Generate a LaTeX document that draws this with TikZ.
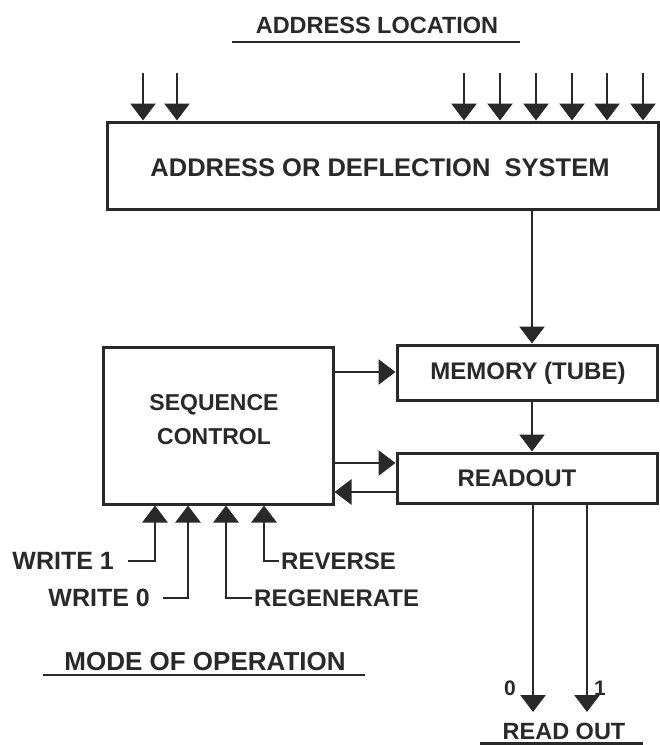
\documentclass[tikz,border=0pt]{standalone}
\usepackage{fontspec}
\setmainfont{Liberation Sans}
\usetikzlibrary{arrows.meta}
\definecolor{ink}{rgb}{0.16,0.16,0.16}
\tikzset{
  box/.style={draw=ink, line width=3pt, inner sep=0pt, text=ink},
  arr/.style={draw=ink, line width=2.8pt, -{Triangle[width=25pt,length=17pt]}},
  uline/.style={draw=ink, line width=2.8pt},
  lbl/.style={text=ink, inner sep=0pt, font=\fontsize{24}{26}\selectfont\bfseries},
  ttl/.style={text=ink, inner sep=0pt, font=\fontsize{23.5}{26}\selectfont\bfseries},
}
\begin{document}
\begin{tikzpicture}[x=1pt,y=-1pt]
\useasboundingbox[fill=white] (0,0) rectangle (660,745);

% title
\node[ttl] (addrloc) at (377,25) {ADDRESS LOCATION};
\draw[uline] (232,42) -- (520,42);

% address box
\node[box, minimum width=551pt, minimum height=87pt] (addr) at (382.5,165.5) {};
\node[ttl, font=\fontsize{25.5}{27}\selectfont\bfseries] (addrtxt) at (380,168) {ADDRESS OR DEFLECTION\ \ SYSTEM};

% top input arrows
\foreach \i/\x in {1/143,2/177,3/464,4/500,5/536,6/572,7/607,8/643}{
  \coordinate (t\i) at (\x,73);
  \draw[arr] (t\i) -- (t\i |- addr.north);
}

% memory and readout
\node[box, minimum width=260pt, minimum height=55pt] (mem) at (527,372.5) {};
\node[lbl] (memtxt) at (528,373) {MEMORY (TUBE)};
\node[box, minimum width=260pt, minimum height=50pt] (rd) at (527,478) {};
\node[lbl] (rdtxt) at (517,478) {READOUT};

% sequence control
\node[box, minimum width=230pt, minimum height=157pt] (seq) at (218,425.5) {};
\node[lbl, align=center, font=\fontsize{23}{34}\selectfont\bfseries] (seqtxt) at (214,420) {SEQUENCE\\CONTROL};

% vertical flow
\coordinate (a1) at (532,209);
\draw[arr] (addr.south -| a1) -- (mem.north -| a1);
\draw[arr] (mem.south -| a1) -- (rd.north -| a1);

% horizontal connections
\coordinate (h1) at (0,372);
\coordinate (h2) at (0,463);
\coordinate (h3) at (0,492);
\draw[arr] (seq.east |- h1) -- (mem.west |- h1);
\draw[arr] (seq.east |- h2) -- (rd.west |- h2);
\draw[arr] (rd.west |- h3) -- (seq.east |- h3);

% mode inputs
\coordinate (w1) at (128,561);
\coordinate (w0) at (163,598);
\coordinate (rg) at (252,598);
\coordinate (rv) at (279,561);
\draw[arr] (w1) -- (155,561) -- (155,561 |- seq.south);
\draw[arr] (w0) -- (188,598) -- (188,598 |- seq.south);
\draw[arr] (rg) -- (226,598) -- (226,598 |- seq.south);
\draw[arr] (rv) -- (264,561) -- (264,561 |- seq.south);
\node[lbl, anchor=east, font=\fontsize{25}{27}\selectfont\bfseries] (lw1) at (114,561) {WRITE 1};
\node[lbl, anchor=east, font=\fontsize{25}{27}\selectfont\bfseries] (lw0) at (150,598) {WRITE 0};
\node[lbl, anchor=west] (lrv) at (281,561) {REVERSE};
\node[lbl, anchor=west] (lrg) at (254,598) {REGENERATE};

\node[lbl, font=\fontsize{26}{28}\selectfont\bfseries] (mode) at (205,662) {MODE OF OPERATION};
\draw[uline] (43,675) -- (365,675);

% outputs
\coordinate (o0) at (533,712);
\coordinate (o1) at (587,712);
\draw[arr] (rd.south -| o0) -- (o0);
\draw[arr] (rd.south -| o1) -- (o1);
\node[ttl, font=\fontsize{21}{23}\selectfont\bfseries] (l0) at (510,688) {0};
\node[ttl, font=\fontsize{21}{23}\selectfont\bfseries] (l1) at (600,688) {1};
\node[ttl] (readout) at (564,731) {READ OUT};
\draw[uline] (480,743.5) -- (643,743.5);
\end{tikzpicture}
\end{document}
